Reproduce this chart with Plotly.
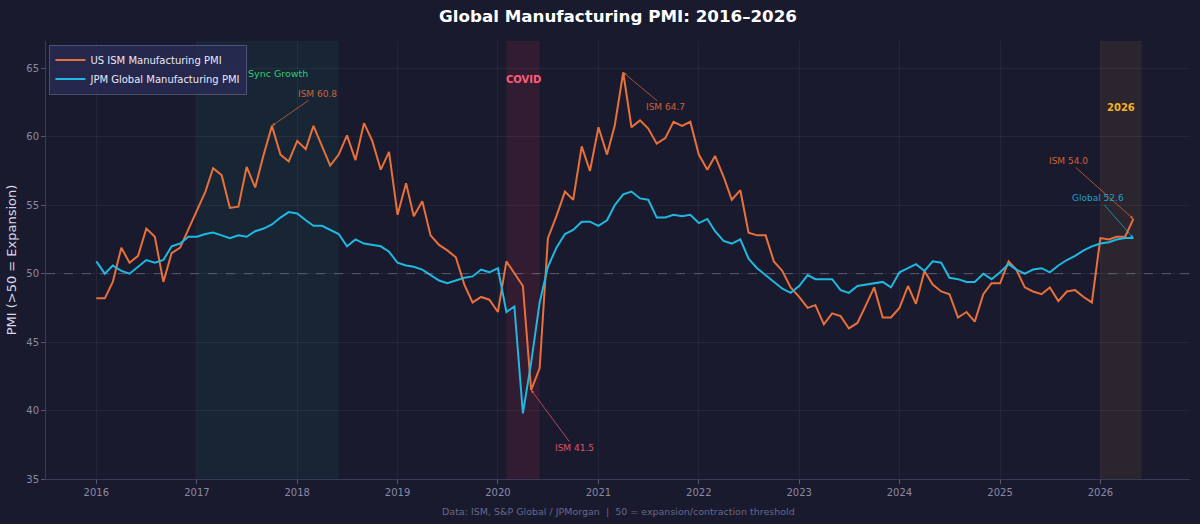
import pandas as pd
import plotly.graph_objects as go

# monthly readings, Jan 2016 .. May 2026
months = pd.date_range("2016-01-01", periods=125, freq="MS")

ism_pmi = [
    48.2, 48.2, 49.4, 51.9, 50.8, 51.3, 53.3, 52.7, 49.4, 51.5, 51.9, 53.2,
    54.6, 56.0, 57.7, 57.2, 54.8, 54.9, 57.8, 56.3, 58.7, 60.8, 58.7, 58.2,
    59.7, 59.1, 60.8, 59.3, 57.9, 58.7, 60.1, 58.3, 61.0, 59.7, 57.6, 58.9,
    54.3, 56.6, 54.2, 55.3, 52.8, 52.1, 51.7, 51.2, 49.2, 47.9, 48.3, 48.1,
    47.2, 50.9, 50.0, 49.1, 41.5, 43.1, 52.6, 54.2, 56.0, 55.4, 59.3, 57.5,
    60.7, 58.7, 60.8, 64.7, 60.7, 61.2, 60.6, 59.5, 59.9, 61.1, 60.8, 61.1,
    58.7, 57.6, 58.6, 57.1, 55.4, 56.1, 53.0, 52.8, 52.8, 50.9, 50.2, 49.0,
    48.3, 47.5, 47.7, 46.3, 47.1, 46.9, 46.0, 46.4, 47.7, 49.0, 46.8, 46.8,
    47.5, 49.1, 47.8, 50.2, 49.2, 48.7, 48.5, 46.8, 47.2, 46.5, 48.5, 49.3,
    49.3, 50.9, 50.3, 49.0, 48.7, 48.5, 49.0, 48.0, 48.7, 48.8, 48.3, 47.9,
    52.6, 52.5, 52.7, 52.7, 54.0,
]

global_pmi = [
    50.9, 50.0, 50.6, 50.2, 50.0, 50.5, 51.0, 50.8, 51.0, 52.0, 52.2, 52.7,
    52.7, 52.9, 53.0, 52.8, 52.6, 52.8, 52.7, 53.1, 53.3, 53.6, 54.1, 54.5,
    54.4, 53.9, 53.5, 53.5, 53.2, 52.9, 52.0, 52.5, 52.2, 52.1, 52.0, 51.6,
    50.8, 50.6, 50.5, 50.3, 49.9, 49.5, 49.3, 49.5, 49.7, 49.8, 50.3, 50.1,
    50.4, 47.2, 47.6, 39.8, 43.5, 47.9, 50.5, 51.9, 52.9, 53.2, 53.8, 53.8,
    53.5, 53.9, 55.0, 55.8, 56.0, 55.5, 55.4, 54.1, 54.1, 54.3, 54.2, 54.3,
    53.7, 54.0, 53.1, 52.4, 52.2, 52.5, 51.1, 50.4, 49.9, 49.4, 48.9, 48.6,
    49.1, 49.9, 49.6, 49.6, 49.6, 48.8, 48.6, 49.1, 49.2, 49.3, 49.4, 49.0,
    50.1, 50.4, 50.7, 50.2, 50.9, 50.8, 49.7, 49.6, 49.4, 49.4, 50.0, 49.6,
    50.1, 50.7, 50.3, 50.0, 50.3, 50.4, 50.1, 50.6, 51.0, 51.3, 51.7, 52.0,
    52.2, 52.3, 52.5, 52.6, 52.6,
]

# shaded periods: (start, end, label, fill, label colour, label y)
periods = [
    ("2017-01-01", "2018-06-01", "Sync Growth", "rgba(0,180,140,0.08)", "#2ecc71", 64.65),
    ("2020-02-01", "2020-06-01", "COVID", "rgba(220,50,80,0.12)", "#ff5c7a", 64.2),
    ("2026-01-01", "2026-05-31", "2026", "rgba(200,140,60,0.10)", "#f5b324", 62.15),
]

ISM_COLOR = "#E8703A"
GLOBAL_COLOR = "#1FB8E0"
BG = "#1a1a2e"
FONT = "DejaVu Sans"

fig = go.Figure()

fig.add_trace(go.Scatter(
    x=months, y=ism_pmi,
    name="US ISM Manufacturing PMI",
    mode="lines",
    line=dict(color=ISM_COLOR, width=2),
))

fig.add_trace(go.Scatter(
    x=months, y=global_pmi,
    name="JPM Global Manufacturing PMI",
    mode="lines",
    line=dict(color=GLOBAL_COLOR, width=2),
))

for start, end, label, fill, label_color, label_y in periods:
    fig.add_vrect(x0=start, x1=end, fillcolor=fill, line_width=0, layer="below")
    mid = pd.Timestamp(start) + (pd.Timestamp(end) - pd.Timestamp(start)) / 2
    bold = label != "Sync Growth"
    fig.add_annotation(
        x=mid if bold else pd.Timestamp("2017-10-22"), y=label_y,
        text=f"<b>{label}</b>" if bold else label,
        showarrow=False,
        font=dict(size=10 if bold else 9.5, color=label_color, family=FONT),
    )

# 50 line
fig.add_shape(
    type="line", xref="paper", x0=0, x1=1, yref="y", y0=50, y1=50,
    line=dict(color="rgba(160,160,185,0.45)", width=1, dash="dash"),
)

# callouts: (date, value, text, colour, dx px, dy px)
callouts = [
    ("2017-10-01", 60.8, "ISM 60.8", ISM_COLOR, 46, -32),
    ("2021-04-01", 64.7, "ISM 64.7", ISM_COLOR, 42, 35),
    ("2020-05-01", 41.5, "ISM 41.5", "#ff5c7a", 43, 58),
    ("2026-05-01", 54.0, "ISM 54.0", ISM_COLOR, -65, -58),
    ("2026-05-01", 52.6, "Global 52.6", GLOBAL_COLOR, -35, -40),
]
for date, val, text, color, dx, dy in callouts:
    fig.add_annotation(
        x=date, y=val, text=text,
        ax=dx, ay=dy,
        showarrow=True, arrowhead=2, arrowsize=0.8, arrowwidth=0.8,
        arrowcolor=color, opacity=0.85,
        font=dict(size=9, color=color, family=FONT),
    )

# footer
fig.add_annotation(
    xref="paper", yref="paper", x=0.5, y=-0.091,
    text="Data: ISM, S&P Global / JPMorgan  |  50 = expansion/contraction threshold",
    showarrow=False,
    font=dict(size=9.5, color="#66688a", family=FONT),
)

axis_common = dict(
    showgrid=True,
    gridcolor="rgba(255,255,255,0.05)",
    zeroline=False,
    showline=True,
    linecolor="#3a3a5a",
    ticks="outside",
    ticklen=4,
    tickcolor="#55557a",
    tickfont=dict(size=10, color="#8a8aa5", family=FONT),
)

fig.update_layout(
    width=1200,
    height=524,
    margin=dict(l=46, r=10, t=41, b=45),
    paper_bgcolor=BG,
    plot_bgcolor=BG,
    font=dict(family=FONT, color="#e0e0f0"),
    title=dict(
        text="<b>Global Manufacturing PMI: 2016–2026</b>",
        x=0.5, xref="paper", y=1 - 16 / 524, yref="container", yanchor="middle",
        font=dict(size=16.7, color="#ffffff", family=FONT),
    ),
    xaxis=dict(
        **axis_common,
        range=["2015-07-02", "2026-11-23"],
        dtick="M12",
        tick0="2016-01-01",
        tickformat="%Y",
    ),
    yaxis=dict(
        **axis_common,
        range=[35, 67],
        dtick=5,
        title=dict(text="PMI (>50 = Expansion)", font=dict(size=13, color="#d8d8e8", family=FONT), standoff=6),
    ),
    showlegend=True,
    legend=dict(
        x=0.003, y=0.992, xanchor="left", yanchor="top",
        bgcolor="rgba(40,42,82,0.85)",
        bordercolor="rgba(110,110,150,0.6)",
        borderwidth=1,
        font=dict(size=10, color="#e8e8f5", family=FONT),
        tracegroupgap=0,
    ),
)

fig.write_html(
    "out.html",
    config={"displayModeBar": False},
    post_script="document.body.style.margin='0';document.body.style.overflow='hidden';",
)
